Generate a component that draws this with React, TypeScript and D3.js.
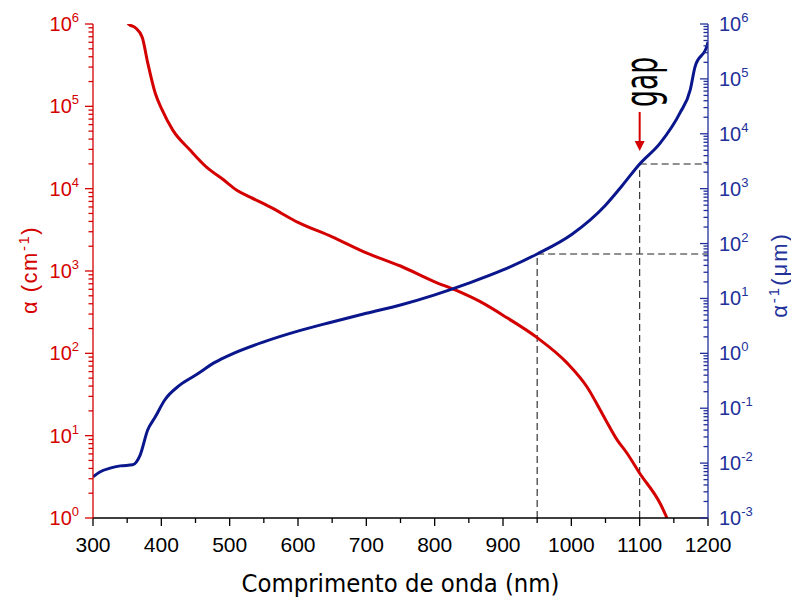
import React from 'react';
import * as d3 from 'd3';

// ---- data ----
const wavelengthTicks = [300, 400, 500, 600, 700, 800, 900, 1000, 1100, 1200];
const wavelengthMinorTicks = [350, 450, 550, 650, 750, 850, 950, 1050, 1150];

// absorption coefficient alpha (cm^-1)
const redWavelength = [345, 352, 362, 372, 380, 391, 401, 417, 442, 467, 490, 511, 530, 559, 600, 650, 700, 750, 800, 830, 866, 906, 950, 994, 1023, 1046, 1067, 1081, 1100, 1130, 1140];
const redAlpha = [1.6e6, 1.0e6, 9.0e5, 6.9e5, 3.4e5, 1.45e5, 9.1e4, 5.1e4, 2.95e4, 1.8e4, 1.3e4, 9.5e3, 7.9e3, 6.0e3, 3.9e3, 2.6e3, 1.66e3, 1.15e3, 740, 589, 427, 270, 155, 76, 39, 18, 8.9, 6.2, 3.5, 1.5, 1.0];

// penetration depth alpha^-1 (um)
const blueWavelength = [300, 310, 325, 340, 358, 369, 380, 391, 405, 427, 451, 479, 500, 550, 601, 650, 700, 750, 799, 850, 900, 950, 1001, 1050, 1074, 1100, 1130, 1159, 1174, 1181, 1199, 1200];
const blueDepth = [0.0056, 0.0069, 0.0081, 0.0089, 0.0093, 0.014, 0.040, 0.069, 0.141, 0.263, 0.407, 0.69, 0.93, 1.62, 2.57, 3.72, 5.37, 7.6, 11.5, 19.0, 33.0, 64.6, 148, 500, 1120, 2820, 6760, 24000, 63000, 166000, 417000, 468000];

const markWavelengths = [950, 1100];
const gapWavelength = 1100;

const leftExponents = [0, 1, 2, 3, 4, 5, 6];
const rightExponents = [-3, -2, -1, 0, 1, 2, 3, 4, 5, 6];

// ---- layout ----
const W = 791, H = 601;
const L = 93, R = 708, T = 24, B = 518;
const RED = '#d40000';
const BLUE_LINE = '#0a168c';
const BLUE_AXIS = '#22309a';
const TICK_FONT = "'Liberation Sans', Arial, sans-serif";

function minorLog(minExp: number, maxExp: number): number[] {
  const out: number[] = [];
  for (let k = minExp; k < maxExp; k++) for (let m = 2; m <= 9; m++) out.push(m * Math.pow(10, k));
  return out;
}

export default function App() {
  const x = d3.scaleLinear().domain([300, 1200]).range([L, R]);
  const yL = d3.scaleLog().domain([1, 1e6]).range([B, T]);
  const yR = d3.scaleLog().domain([1e-3, 1e6]).range([B, T]);

  const redPts: [number, number][] = redWavelength.map((w, i) => [x(w), yL(redAlpha[i])]);
  const bluePts: [number, number][] = blueWavelength.map((w, i) => [x(w), yR(blueDepth[i])]);
  const line = d3.line().curve(d3.curveMonotoneX);

  const blueAt = (w: number) => {
    const i = d3.bisectLeft(blueWavelength, w);
    if (blueWavelength[i] === w) return blueDepth[i];
    const w0 = blueWavelength[i - 1], w1 = blueWavelength[i];
    const t = (w - w0) / (w1 - w0);
    return Math.pow(10, Math.log10(blueDepth[i - 1]) * (1 - t) + Math.log10(blueDepth[i]) * t);
  };

  const gx = x(gapWavelength);
  const gy = yR(blueAt(gapWavelength));
  const tipY = gy - 13;
  const tailY = tipY - 39;

  return (
    <svg width={W} height={H} style={{ position: 'absolute', left: 0, top: 0, background: '#fff' }}>
      <defs>
        <clipPath id="plot">
          <rect x={L} y={T} width={R - L} height={B - T} />
        </clipPath>
      </defs>
      <rect x={0} y={0} width={W} height={H} fill="#fff" />

      {/* dashed guides */}
      {markWavelengths.map((w) => {
        const px = x(w), py = yR(blueAt(w));
        return (
          <g key={w} stroke="#222" strokeWidth={1.1} strokeDasharray="7,4" fill="none">
            <line x1={px} y1={B} x2={px} y2={py} />
            <line x1={px} y1={py} x2={R} y2={py} />
          </g>
        );
      })}

      {/* curves */}
      <g clipPath="url(#plot)">
        <path d={line(redPts) || ''} fill="none" stroke={RED} strokeWidth={3} strokeLinejoin="round" />
        <path d={line(bluePts) || ''} fill="none" stroke={BLUE_LINE} strokeWidth={3} strokeLinejoin="round" />
      </g>

      {/* bottom axis */}
      <g stroke="#000" strokeWidth={1.3}>
        <line x1={L} y1={B} x2={R} y2={B} />
        {wavelengthTicks.map((t) => (
          <line key={t} x1={x(t)} y1={B} x2={x(t)} y2={B + 8} />
        ))}
        {wavelengthMinorTicks.map((t) => (
          <line key={t} x1={x(t)} y1={B} x2={x(t)} y2={B + 5} />
        ))}
      </g>
      {wavelengthTicks.map((t) => (
        <text key={t} x={x(t)} y={552} textAnchor="middle" fontFamily={TICK_FONT} fontSize={21} fill="#000">
          {t}
        </text>
      ))}
      <text x={(L + R) / 2} y={592} textAnchor="middle" fontFamily="'DejaVu Sans', Tahoma, sans-serif" fontSize={25}
        textLength={318} lengthAdjust="spacingAndGlyphs" fill="#000">
        Comprimento de onda (nm)
      </text>

      {/* left axis */}
      <g stroke={RED} strokeWidth={1.3}>
        <line x1={L} y1={T} x2={L} y2={B} />
        {leftExponents.map((e) => (
          <line key={e} x1={L - 8} y1={yL(Math.pow(10, e))} x2={L} y2={yL(Math.pow(10, e))} />
        ))}
        {minorLog(0, 6).map((v, i) => (
          <line key={i} x1={L - 4.5} y1={yL(v)} x2={L} y2={yL(v)} />
        ))}
      </g>
      {leftExponents.map((e) => (
        <text key={e} x={79} y={yL(Math.pow(10, e)) + 7} textAnchor="end" fontFamily={TICK_FONT} fontSize={20} fill={RED}>
          10<tspan fontSize={13} dy={-9}>{e}</tspan>
        </text>
      ))}
      <text transform="translate(37,270) rotate(-90)" textAnchor="middle" fontFamily={TICK_FONT} fontSize={22} fill={RED}
        letterSpacing={1.5}>
        α (cm<tspan fontSize={15} dy={-8}>-1</tspan><tspan dy={8}>)</tspan>
      </text>

      {/* right axis */}
      <g stroke={BLUE_AXIS} strokeWidth={1.3}>
        <line x1={R} y1={T} x2={R} y2={B} />
        {rightExponents.map((e) => (
          <line key={e} x1={R - 8} y1={yR(Math.pow(10, e))} x2={R} y2={yR(Math.pow(10, e))} />
        ))}
        {minorLog(-3, 6).map((v, i) => (
          <line key={i} x1={R - 4.5} y1={yR(v)} x2={R} y2={yR(v)} />
        ))}
      </g>
      {rightExponents.map((e) => (
        <text key={e} x={719} y={yR(Math.pow(10, e)) + 7} textAnchor="start" fontFamily={TICK_FONT} fontSize={20} fill={BLUE_AXIS}>
          10<tspan fontSize={13} dy={-9}>{e}</tspan>
        </text>
      ))}
      <text transform="translate(787,275) rotate(-90)" textAnchor="middle" fontFamily={TICK_FONT} fontSize={22} fill={BLUE_AXIS}
        letterSpacing={2}>
        α<tspan fontSize={15} dy={-8}>-1</tspan><tspan dy={8}>(μm)</tspan>
      </text>

      {/* gap annotation */}
      <line x1={gx} y1={tailY} x2={gx} y2={tipY - 8} stroke={RED} strokeWidth={2} />
      <path d={`M${gx - 5},${tipY - 10} L${gx + 5},${tipY - 10} L${gx},${tipY} Z`} fill={RED} />
      <text transform={`translate(${gx + 17},${tailY - 30}) rotate(-90)`} textAnchor="middle" fontFamily="'DejaVu Sans', Tahoma, sans-serif"
        fontSize={46} textLength={50} lengthAdjust="spacingAndGlyphs" fill="#000">
        gap
      </text>
    </svg>
  );
}
